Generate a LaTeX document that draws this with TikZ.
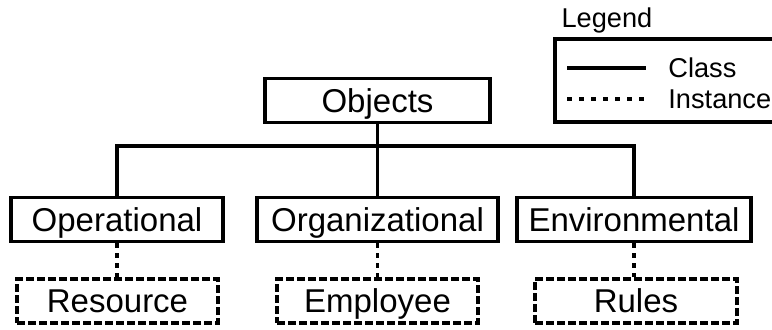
\documentclass[tikz,border=0pt]{standalone}
\usepackage{fontspec}
\setmainfont{Liberation Sans}
\begin{document}
\begin{tikzpicture}[
  x=0.5pt, y=-0.5pt,
  classbox/.style={draw, line width=1.7pt, inner sep=0pt, minimum height=22pt,
    text height=11.8pt, text depth=0pt, font=\fontsize{16.5}{19}\selectfont},
  instbox/.style={classbox, dash pattern=on 4pt off 1.5pt},
  classlink/.style={line width=1.7pt},
  instlink/.style={line width=1.7pt, dash pattern=on 2.5pt off 2.5pt},
  legendlbl/.style={font=\fontsize{13.6}{16}\selectfont, inner sep=0pt}
]
  \useasboundingbox (0,0) rectangle (772,329);
  % classes
  \node[classbox, minimum width=112.5pt] (objects) at (377.5,100.5) {Objects};
  \node[classbox, minimum width=106pt]   (operational) at (117,219.5) {Operational};
  \node[classbox, minimum width=120.5pt] (organizational) at (377.5,219.5) {Organizational};
  \node[classbox, minimum width=117pt]   (environmental) at (634,219.5) {Environmental};
  % instances
  \node[instbox, minimum width=100.5pt] (resource) at (117.5,301) {Resource};
  \node[instbox, minimum width=100.5pt] (employee) at (377.5,301) {Employee};
  \node[instbox, minimum width=101pt]   (rules) at (636,301) {Rules};
  \coordinate (bar) at (377.5,146);
  \draw[classlink] (objects.south) -- (organizational.north);
  \draw[classlink] (operational.north) -- (operational.north |- bar) -- (environmental.north |- bar) -- (environmental.north);
  \draw[instlink] (operational.south) -- (operational.south |- resource.north);
  \draw[instlink] (organizational.south) -- (organizational.south |- employee.north);
  \draw[instlink] (environmental.south) -- (environmental.south |- rules.north);
  % legend
  \node[legendlbl] (legend) at (607,20) {Legend};
  \draw[classlink] (774,39) -- (555,39) -- (555,122) -- (774,122);
  \draw[classlink] (567,68) -- (646,68);
  \draw[instlink, dash pattern=on 2.5pt off 3.5pt] (567,99) -- (645,99);
  \node[legendlbl, anchor=west] (class) at (668,68) {Class};
  \node[legendlbl, anchor=west] (instance) at (668,99) {Instance};
\end{tikzpicture}
\end{document}
